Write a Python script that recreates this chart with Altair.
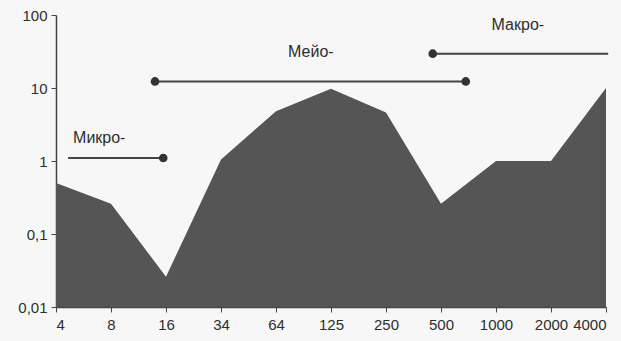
import altair as alt
import pandas as pd

# Size classes (µm) and relative abundance
sizes = ["4", "8", "16", "34", "64", "125", "250", "500", "1000", "2000", "4000"]
values = [0.5, 0.26, 0.026, 1.05, 4.8, 9.8, 4.6, 0.26, 1.0, 1.0, 10.0]

# Size-group ranges (in category index units) with their level and label
group_names = ["Микро-", "Мейо-", "Макро-"]
group_start = [0.22, 1.8, 6.85]
group_end = [1.95, 7.45, 10.04]
group_level = [1.1, 12.3, 29.5]
group_dots = [[1.95], [1.8, 7.45], [6.85]]
label_x = [0.31, 4.22, 7.92]
label_y = [2.05, 31.6, 73.0]

FONT = "Liberation Sans"
INK = "#2e2e2e"

df = pd.DataFrame({"i": list(range(len(sizes))), "size": sizes, "v": values})
df_lines = pd.DataFrame({"name": group_names, "x1": group_start, "x2": group_end, "y": group_level})
dots = []
for n, lvl, ds in zip(group_names, group_level, group_dots):
    for d in ds:
        dots.append({"name": n, "x": d, "y": lvl})
df_dots = pd.DataFrame(dots)
df_labels = pd.DataFrame({"name": group_names, "x": label_x, "y": label_y})

label_expr = "[" + ",".join(f"'{s}'" for s in sizes) + "][datum.value]"

xscale = alt.Scale(domain=[0, 10], nice=False, zero=False)
yscale = alt.Scale(type="log", domain=[0.01, 100], nice=False)

area = alt.Chart(df).mark_area(color="#555555", opacity=1, line=False).encode(
    x=alt.X("i:Q", scale=xscale, axis=alt.Axis(
        values=list(range(len(sizes))), labelExpr=label_expr, title=None, grid=False,
        domainColor="#444444", tickColor="#444444", tickSize=5, labelFont=FONT,
        labelFontSize=15, labelColor=INK, labelPadding=5, domainWidth=1.5)),
    y=alt.Y("v:Q", scale=yscale, axis=alt.Axis(
        values=[0.01, 0.1, 1, 10, 100], title=None, grid=False,
        labelExpr="replace(toString(datum.value), '.', ',')",
        domainColor="#444444", tickColor="#444444", tickSize=5, labelFont=FONT,
        labelFontSize=15, labelColor=INK, labelPadding=4, domainWidth=1.5)),
    y2=alt.Y2(datum=0.01),
)

lines = alt.Chart(df_lines).mark_rule(color="#444444", strokeWidth=2).encode(
    x=alt.X("x1:Q", scale=xscale), x2="x2:Q", y=alt.Y("y:Q", scale=yscale))

pts = alt.Chart(df_dots).mark_point(filled=True, color="#333333", size=75, opacity=1).encode(
    x=alt.X("x:Q", scale=xscale), y=alt.Y("y:Q", scale=yscale))

labels = alt.Chart(df_labels).mark_text(
    align="left", baseline="middle", font=FONT, fontSize=16, color=INK).encode(
    x=alt.X("x:Q", scale=xscale), y=alt.Y("y:Q", scale=yscale), text="name:N")

chart = alt.layer(area, lines, pts, labels).properties(
    width=550, height=292,
    autosize=alt.AutoSizeParams(type="none"),
    padding={"left": 56, "top": 15, "right": 15, "bottom": 34},
    background="#f7f7f7",
).configure_view(stroke=None)

chart.save("out.html", embed_options={"renderer": "svg", "actions": False})
